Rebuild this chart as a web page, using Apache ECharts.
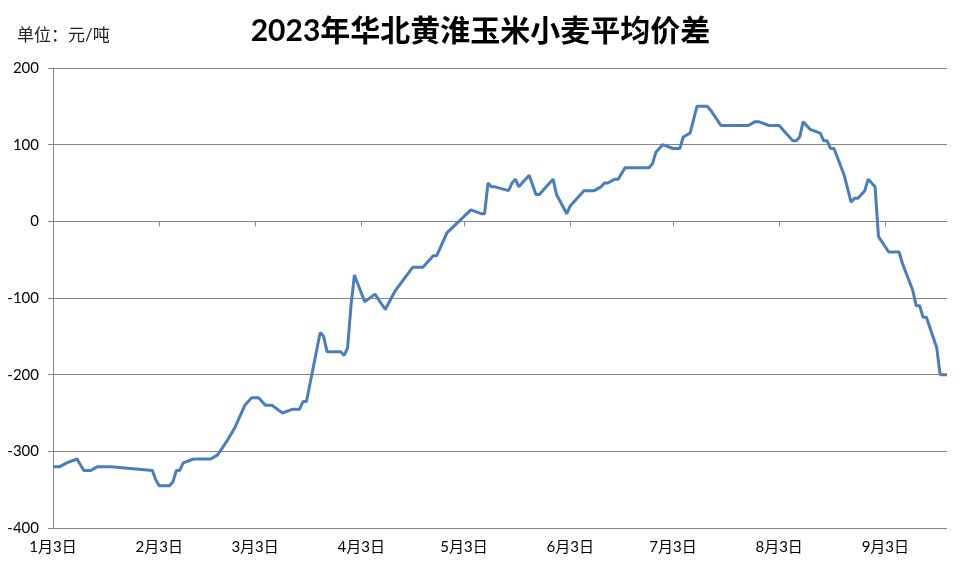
<!DOCTYPE html>
<html>
<head>
<meta charset="utf-8">
<script src="https://cdn.jsdelivr.net/npm/echarts@6/dist/echarts.min.js"></script>
<style>html,body{margin:0;padding:0;background:#fff}#c{width:961px;height:569px}</style>
</head>
<body>
<div id="c"></div>
<script>
const titleText = '2023年华北黄淮玉米小麦平均价差';
const unitText = '单位：元/吨';
const dates = [
 '2023-01-03','2023-01-05','2023-01-07','2023-01-10','2023-01-12','2023-01-14','2023-01-16','2023-01-20',
 '2023-02-01','2023-02-02','2023-02-03','2023-02-06','2023-02-07','2023-02-08','2023-02-09','2023-02-10',
 '2023-02-13','2023-02-18','2023-02-20','2023-02-23','2023-02-25','2023-02-28',
 '2023-03-02','2023-03-04','2023-03-06','2023-03-08','2023-03-11','2023-03-14','2023-03-16','2023-03-17',
 '2023-03-18','2023-03-22','2023-03-23','2023-03-24','2023-03-28','2023-03-29','2023-03-30','2023-03-31',
 '2023-04-01','2023-04-04','2023-04-07','2023-04-10','2023-04-13','2023-04-18','2023-04-21','2023-04-24',
 '2023-04-25','2023-04-28',
 '2023-05-05','2023-05-08','2023-05-09','2023-05-10','2023-05-11','2023-05-12','2023-05-16','2023-05-17',
 '2023-05-18','2023-05-19','2023-05-22','2023-05-24','2023-05-25','2023-05-27','2023-05-29','2023-05-30',
 '2023-06-02','2023-06-03','2023-06-07','2023-06-10','2023-06-12','2023-06-13','2023-06-14','2023-06-16',
 '2023-06-17','2023-06-19','2023-06-26','2023-06-27','2023-06-28','2023-06-30',
 '2023-07-03','2023-07-05','2023-07-06','2023-07-08','2023-07-10','2023-07-13','2023-07-14','2023-07-17',
 '2023-07-25','2023-07-27','2023-07-28','2023-07-31',
 '2023-08-03','2023-08-05','2023-08-07','2023-08-08','2023-08-09','2023-08-10','2023-08-12','2023-08-15',
 '2023-08-16','2023-08-17','2023-08-18','2023-08-19','2023-08-22','2023-08-24','2023-08-25','2023-08-26',
 '2023-08-28','2023-08-29','2023-08-31',
 '2023-09-01','2023-09-04','2023-09-07','2023-09-08','2023-09-11','2023-09-12','2023-09-13','2023-09-14',
 '2023-09-15','2023-09-18','2023-09-19','2023-09-21'
];
const spread = [
 -320,-320,-315,-310,-325,-325,-320,-320,
 -325,-337,-345,-345,-340,-325,-325,-315,
 -310,-310,-305,-285,-270,-240,
 -230,-230,-240,-240,-250,-245,-245,-235,
 -235,-145,-150,-170,-170,-175,-165,-110,
 -70,-105,-95,-115,-90,-60,-60,-45,
 -45,-15,
 15,10,10,50,45,45,40,50,
 55,45,60,35,35,45,55,35,
 10,20,40,40,45,50,50,55,
 55,70,70,75,90,100,
 95,95,110,115,150,150,145,125,
 125,130,130,125,
 125,115,105,105,110,130,120,115,
 105,105,95,95,60,25,30,30,
 40,55,45,
 -20,-40,-40,-55,-90,-110,-110,-125,
 -125,-165,-200,-200
];
const xTickDates = ['2023-01-03','2023-02-03','2023-03-03','2023-04-03','2023-05-03','2023-06-03','2023-07-03','2023-08-03','2023-09-03'];
const xMin = '2023-01-03', xMax = '2023-09-21';
const yMin = -400, yMax = 200, yStep = 100;

function ts(s){ const p = s.split('-').map(Number); return new Date(p[0], p[1]-1, p[2]).getTime(); }
const seriesData = dates.map((d,i)=>[ts(d), spread[i]]);
const tickVals = xTickDates.map(ts);

const FONT = "Lato, 'Noto Sans CJK SC', sans-serif";
const chart = echarts.init(document.getElementById('c'));
chart.setOption({
  animation:false,
  backgroundColor:'#fff',
  title:[
    {text:titleText,left:'center',top:11,textStyle:{fontFamily:FONT,fontSize:30,fontWeight:'bold',color:'#000'}},
    {text:unitText,left:12,top:22,textStyle:{fontFamily:FONT,fontSize:17,fontWeight:'normal',color:'#222'}}
  ],
  grid:{left:53,right:14,top:68,bottom:41,outerBoundsMode:'none'},
  xAxis:{
    type:'value', min:ts(xMin), max:ts(xMax), scale:true,
    axisLine:{lineStyle:{color:'#868686',width:1}},
    axisTick:{show:true,customValues:tickVals,length:5,lineStyle:{color:'#868686'}},
    axisLabel:{customValues:tickVals,margin:12,fontFamily:FONT,fontSize:15,color:'#000',
      formatter:function(v){const d=new Date(v);return (d.getMonth()+1)+'月'+d.getDate()+'日';}},
    splitLine:{show:false}
  },
  yAxis:{
    type:'value', min:yMin, max:yMax, interval:yStep,
    axisLine:{show:true,lineStyle:{color:'#868686',width:1}},
    axisTick:{show:true,length:5,lineStyle:{color:'#868686'}},
    axisLabel:{margin:14,fontFamily:FONT,fontSize:15,color:'#000'},
    splitLine:{show:true,lineStyle:{color:'#868686',width:1}}
  },
  series:[{
    type:'line', data:seriesData, showSymbol:false, symbol:'none',
    lineStyle:{color:'#4a7ebb',width:3}, itemStyle:{color:'#4a7ebb'}
  }]
});
</script>
</body>
</html>
